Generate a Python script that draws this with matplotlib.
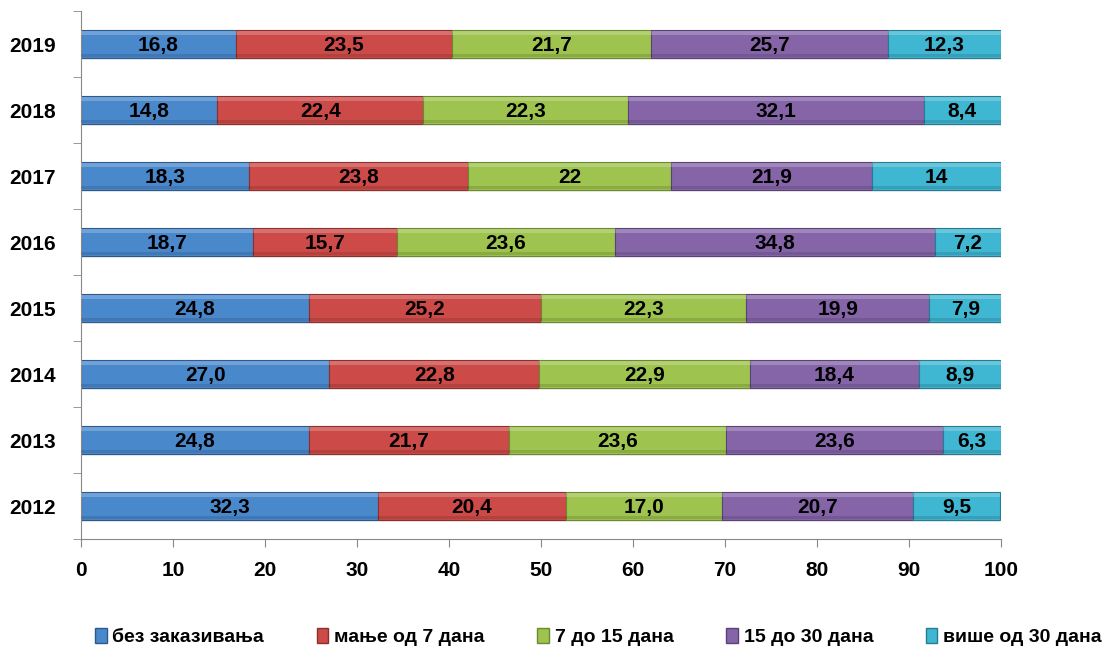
import matplotlib
matplotlib.use("Agg")
import matplotlib.pyplot as plt
from matplotlib.patches import Patch
import numpy as np

plt.rcParams['font.family'] = ['Liberation Sans', 'DejaVu Sans']
plt.rcParams['font.weight'] = 'bold'

years = ['2012', '2013', '2014', '2015', '2016', '2017', '2018', '2019']
series = ['без заказивања', 'мање од 7 дана', '7 до 15 дана', '15 до 30 дана', 'више од 30 дана']
bez = [32.3, 24.8, 27.0, 24.8, 18.7, 18.3, 14.8, 16.8]
manje7 = [20.4, 21.7, 22.8, 25.2, 15.7, 23.8, 22.4, 23.5]
od7do15 = [17.0, 23.6, 22.9, 22.3, 23.6, 22, 22.3, 21.7]
od15do30 = [20.7, 23.6, 18.4, 19.9, 34.8, 21.9, 32.1, 25.7]
vise30 = [9.5, 6.3, 8.9, 7.9, 7.2, 14, 8.4, 12.3]
# 2017 labels were written without forced decimals
short_fmt = [False, False, False, False, False, True, False, False]

colors = ['#4a88cc', '#cc4a47', '#9ec34e', '#8565a8', '#3fb6d2']
edges = ['#2c5a8c', '#8c2f2d', '#6b8a2f', '#5a4278', '#267d93']

data = [bez, manje7, od7do15, od15do30, vise30]


def fmt(v, short):
    s = f"{v:g}" if short else f"{v:.1f}"
    return s.replace('.', ',')


fig = plt.figure(figsize=(11.04, 6.47), dpi=100)
ax = fig.add_axes([81 / 1104, 1 - 539 / 647, 920 / 1104, 528 / 647])

y = np.arange(len(years))
h = 0.41
left = np.zeros(len(years))
for vals, c, ec in zip(data, colors, edges):
    vals = np.array(vals)
    # soft shadow under the bar
    ax.barh(y - 0.03, vals, left=left, height=h, color='#000000', alpha=0.08,
            linewidth=0, zorder=1)
    ax.barh(y, vals, left=left, height=h, color=c, edgecolor=ec, linewidth=0.8, zorder=2)
    # light bevel on the upper edge, darker on the lower edge
    ax.barh(y + h * 0.4, vals, left=left, height=h * 0.14, color='white', alpha=0.22,
            linewidth=0, zorder=3)
    ax.barh(y - h * 0.42, vals, left=left, height=h * 0.1, color='black', alpha=0.12,
            linewidth=0, zorder=3)
    for i, v in enumerate(vals):
        ax.text(left[i] + v / 2, y[i] - 0.02, fmt(v, short_fmt[i]), ha='center',
                va='center', fontsize=15, fontweight='bold', color='black', zorder=4)
    left += vals

ax.set_xlim(0, 100)
ax.set_ylim(-0.5, 7.5)
ax.set_xticks(np.arange(0, 101, 10))
ax.set_yticks(y)
ax.set_yticklabels(years)
ax.set_yticks(np.arange(-0.5, 7.6, 1), minor=True)
ax.tick_params(axis='y', which='major', length=0, pad=18, labelsize=15)
ax.tick_params(axis='y', which='minor', length=6, direction='out', color='#888888')
ax.tick_params(axis='x', length=6, direction='out', color='#888888', labelsize=15, pad=10)
for lbl in ax.get_xticklabels() + ax.get_yticklabels():
    lbl.set_fontweight('bold')
for s in ['top', 'right']:
    ax.spines[s].set_visible(False)
ax.spines['left'].set_color('#888888')
ax.spines['bottom'].set_color('#888888')

handles = [Patch(facecolor=c, edgecolor=ec) for c, ec in zip(colors, edges)]
fig.legend(handles, series, loc='center', bbox_to_anchor=(0.542, 1 - 637 / 647), ncol=5,
           frameon=False, handlelength=0.6, handleheight=0.8,
           handletextpad=0.3, columnspacing=2.7, prop={'weight': 'bold', 'size': 14})

fig.savefig('out.png', dpi=100)
